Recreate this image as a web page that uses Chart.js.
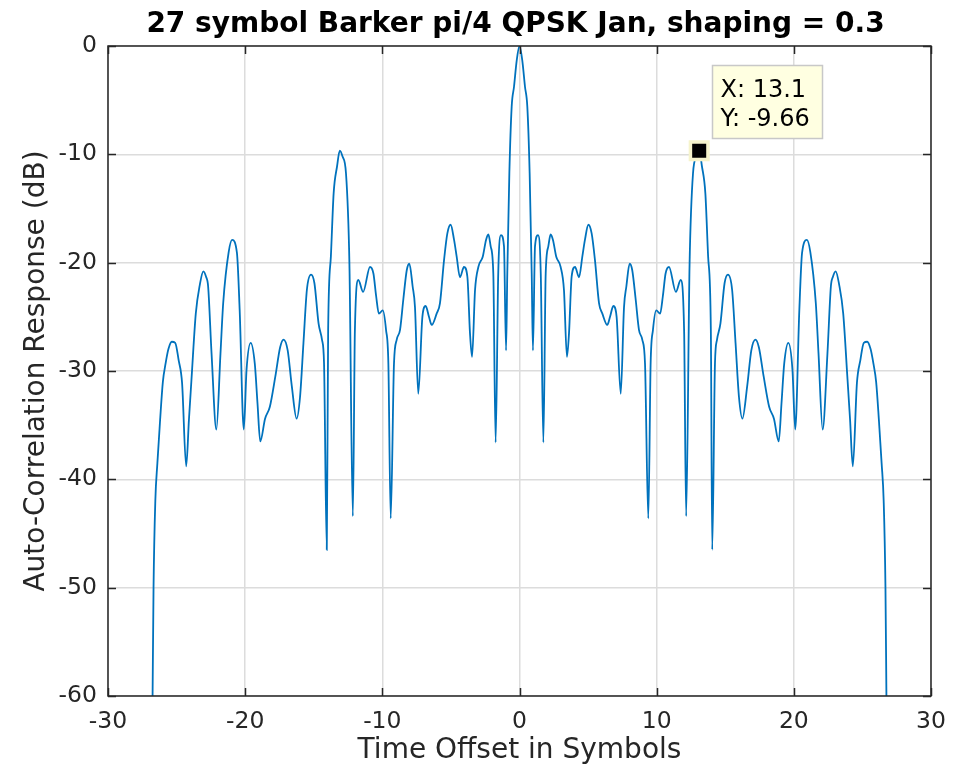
<!DOCTYPE html>
<html>
<head>
<meta charset="utf-8">
<script src="https://cdn.jsdelivr.net/npm/chart.js@4"></script>
<style>
  html, body { margin: 0; padding: 0; background: #fff; }
  #wrap { width: 968px; height: 771px; }
</style>
</head>
<body>
<div id="wrap"><canvas id="acf" width="968" height="771"></canvas></div>
<script>
// 27 symbol Barker pi/4 QPSK autocorrelation
var leftX = [-26.75, -26.68, -26.55, -26.4, -26.2, -26.0, -25.8, -25.6, -25.35, -25.1, -24.85, -24.6, -24.3, -24.1, -23.9, -23.6, -23.3, -23.05, -22.85, -22.7, -22.45, -22.1, -21.8, -21.6, -21.2, -20.95, -20.6, -20.4, -20.1, -19.9, -19.6, -19.3, -19.1, -18.9, -18.55, -18.2, -17.8, -17.45, -17.2, -16.9, -16.6, -16.25, -16.0, -15.75, -15.5, -15.2, -14.95, -14.65, -14.4, -14.25, -14.05, -13.95, -13.75, -13.55, -13.3, -13.1, -12.9, -12.65, -12.4, -12.15, -12.0, -11.75, -11.4, -10.9, -10.65, -10.45, -10.25, -9.97, -9.73, -9.56, -9.39, -9.15, -8.95, -8.71, -8.47, -8.22, -8.03, -7.79, -7.62, -7.38, -7.08, -6.84, -6.6, -6.4, -6.04, -5.8, -5.5, -5.26, -5.02, -4.77, -4.58, -4.34, -4.05, -3.8, -3.61, -3.46, -3.24, -3.0, -2.68, -2.44, -2.27, -2.1, -1.91, -1.74, -1.55, -1.35, -1.13, -0.98, -0.89, -0.74, -0.57, -0.4, -0.2, 0];
var leftY = [-60, -50, -42, -38.5, -34.5, -31.0, -29.3, -28.0, -27.3, -27.4, -29.0, -31.1, -38.8, -34.5, -30.5, -24.7, -22.0, -20.8, -21.3, -22.2, -28.4, -35.4, -28.4, -23.7, -19.0, -17.9, -19.1, -24.4, -35.4, -29.9, -27.4, -29.3, -33.0, -36.5, -34.4, -33.3, -30.5, -27.8, -27.1, -28.1, -31.4, -34.4, -32.4, -27.4, -22.5, -21.1, -21.9, -25.6, -27.1, -29.3, -46.5, -26.2, -19.4, -13.6, -11.1, -9.66, -10.2, -11.75, -20.1, -43.4, -26.2, -21.6, -22.7, -20.4, -21.0, -23.1, -24.7, -24.4, -26.2, -29.3, -43.6, -29.3, -27.1, -26.2, -23.4, -20.7, -20.1, -22.2, -24.1, -32.1, -25.0, -24.0, -25.0, -25.75, -24.7, -23.75, -19.75, -17.3, -16.5, -17.9, -19.45, -21.35, -20.4, -21.3, -26.5, -28.7, -22.5, -20.4, -19.45, -17.9, -17.4, -18.5, -21.0, -36.6, -21.0, -17.45, -18.5, -28.1, -21.0, -11.75, -5.6, -3.76, -1.3, 0];
var rightX = [0.2, 0.4, 0.57, 0.74, 0.89, 0.98, 1.13, 1.35, 1.55, 1.74, 1.91, 2.1, 2.27, 2.44, 2.68, 3.0, 3.24, 3.46, 3.61, 3.8, 4.05, 4.34, 4.58, 4.77, 5.02, 5.26, 5.5, 5.8, 6.04, 6.4, 6.6, 6.84, 7.08, 7.38, 7.62, 7.79, 8.03, 8.22, 8.47, 8.71, 8.95, 9.15, 9.39, 9.56, 9.73, 9.97, 10.25, 10.45, 10.65, 10.9, 11.4, 11.75, 12.0, 12.15, 12.4, 12.65, 12.9, 13.1, 13.3, 13.55, 13.75, 13.95, 14.05, 14.25, 14.4, 14.65, 14.95, 15.2, 15.5, 15.75, 16.0, 16.25, 16.6, 16.9, 17.2, 17.45, 17.8, 18.2, 18.55, 18.9, 19.1, 19.3, 19.6, 19.9, 20.1, 20.4, 20.6, 20.95, 21.2, 21.6, 21.8, 22.1, 22.45, 22.7, 22.85, 23.05, 23.3, 23.6, 23.9, 24.1, 24.3, 24.6, 24.85, 25.1, 25.35, 25.6, 25.8, 26.0, 26.2, 26.4, 26.55, 26.68, 26.75];
var rightY = [-1.3, -3.76, -5.6, -11.75, -21.0, -28.1, -18.5, -17.45, -21.0, -36.6, -21.0, -18.5, -17.4, -17.9, -19.45, -20.4, -22.5, -28.7, -26.5, -21.3, -20.4, -21.35, -19.45, -17.9, -16.5, -17.3, -19.75, -23.75, -24.7, -25.75, -25.0, -24.0, -25.0, -32.1, -24.1, -22.2, -20.1, -20.7, -23.4, -26.2, -27.1, -29.3, -43.6, -29.3, -26.2, -24.4, -24.7, -23.1, -21.0, -20.4, -22.7, -21.6, -26.2, -43.4, -20.1, -11.75, -10.2, -9.66, -11.1, -13.6, -19.4, -26.2, -46.5, -29.3, -27.1, -25.6, -21.9, -21.1, -22.5, -27.4, -32.4, -34.4, -31.4, -28.1, -27.1, -27.8, -30.5, -33.3, -34.4, -36.5, -33.0, -29.3, -27.4, -29.9, -35.4, -24.4, -19.1, -17.9, -19.0, -23.7, -28.4, -35.4, -28.4, -22.2, -21.3, -20.8, -22.0, -24.7, -30.5, -34.5, -38.8, -31.1, -29.0, -27.4, -27.3, -28.0, -29.3, -31.0, -34.5, -38.5, -42, -50, -60];
var xTicks = [-30, -20, -10, 0, 10, 20, 30];
var yTicks = [-60, -50, -40, -30, -20, -10, 0];
var tipX = 13.1;
var tipY = -9.66;

var FONT = "'DejaVu Sans', sans-serif";
var lineColor = '#0072BD';

var curve = [];
leftX.forEach(function(x, i) { curve.push({ x: x, y: leftY[i] }); });
rightX.forEach(function(x, i) { curve.push({ x: x, y: rightY[i] }); });

// frame, inward ticks, titles and the data tip
var decor = {
    id: 'decor',
    afterDatasetsDraw: function(chart) {
        var ctx = chart.ctx, a = chart.chartArea;
        var sx = chart.scales.x, sy = chart.scales.y;
        ctx.save();
        ctx.strokeStyle = '#262626';
        ctx.lineWidth = 1.5;
        ctx.strokeRect(a.left, a.top, a.right - a.left, a.bottom - a.top);
        ctx.beginPath();
        xTicks.forEach(function(t) {
            var px = Math.round(sx.getPixelForValue(t)) + 0.5;
            ctx.moveTo(px, a.bottom); ctx.lineTo(px, a.bottom - 8);
            ctx.moveTo(px, a.top); ctx.lineTo(px, a.top + 8);
        });
        yTicks.forEach(function(t) {
            var py = Math.round(sy.getPixelForValue(t)) + 0.5;
            ctx.moveTo(a.left, py); ctx.lineTo(a.left + 8, py);
            ctx.moveTo(a.right, py); ctx.lineTo(a.right - 8, py);
        });
        ctx.stroke();

        // titles
        ctx.fillStyle = '#000';
        ctx.textAlign = 'center';
        ctx.textBaseline = 'middle';
        ctx.font = 'bold 28px ' + FONT;
        ctx.fillText('27 symbol Barker pi/4 QPSK Jan, shaping = 0.3', (a.left + a.right) / 2 - 4, 25);
        ctx.fillStyle = '#262626';
        ctx.font = '28px ' + FONT;
        ctx.fillText('Time Offset in Symbols', (a.left + a.right) / 2, 751);
        ctx.save();
        ctx.translate(37, (a.top + a.bottom) / 2);
        ctx.rotate(-Math.PI / 2);
        ctx.fillText('Auto-Correlation Response (dB)', 0, 0);
        ctx.restore();

        // data tip box
        var mx = sx.getPixelForValue(tipX), my = sy.getPixelForValue(tipY);
        var bx = Math.round(mx + 13) + 0.5, by = Math.round(my - 86) + 0.5;
        ctx.fillStyle = '#ffffe1';
        ctx.fillRect(bx, by, 110, 73);
        ctx.strokeStyle = '#c8c8c8';
        ctx.lineWidth = 1.5;
        ctx.strokeRect(bx, by, 110, 73);
        ctx.fillStyle = '#000';
        ctx.textAlign = 'left';
        ctx.textBaseline = 'alphabetic';
        ctx.font = '24px ' + FONT;
        ctx.fillText('X: ' + tipX, bx + 8, by + 31);
        ctx.fillText('Y: ' + tipY, bx + 8, by + 60);
        ctx.restore();
    }
};

new Chart(document.getElementById('acf').getContext('2d'), {
    type: 'line',
    data: {
        datasets: [{
            data: [{ x: tipX, y: tipY }],
            showLine: false,
            pointStyle: 'rect',
            pointRadius: 12.4,
            pointBackgroundColor: '#000',
            pointBorderColor: '#f6f4cc',
            pointBorderWidth: 3.5,
            order: 0
        }, {
            data: curve,
            borderColor: lineColor,
            borderWidth: 1.8,
            pointRadius: 0,
            fill: false,
            cubicInterpolationMode: 'monotone',
            order: 1
        }]
    },
    options: {
        responsive: false,
        animation: false,
        events: [],
        layout: { padding: { top: 46, right: 37, left: 0, bottom: 0 } },
        plugins: { legend: { display: false }, tooltip: { enabled: false }, title: { display: false } },
        scales: {
            x: {
                type: 'linear', min: -30, max: 30,
                afterFit: function(s) { s.height = 75; },
                afterBuildTicks: function(s) { s.ticks = xTicks.map(function(v) { return { value: v }; }); },
                ticks: { color: '#262626', font: { family: FONT, size: 23.5 }, padding: 12, maxRotation: 0 },
                grid: { color: '#dcdcdc', lineWidth: 1.5, drawTicks: false },
                border: { display: false }
            },
            y: {
                type: 'linear', min: -60, max: 0,
                afterFit: function(s) { s.width = 108; },
                afterBuildTicks: function(s) { s.ticks = yTicks.map(function(v) { return { value: v }; }); },
                ticks: { color: '#262626', font: { family: FONT, size: 23.5 }, padding: 11 },
                grid: { color: '#dcdcdc', lineWidth: 1.5, drawTicks: false },
                border: { display: false }
            }
        }
    },
    plugins: [decor]
});
</script>
</body>
</html>
